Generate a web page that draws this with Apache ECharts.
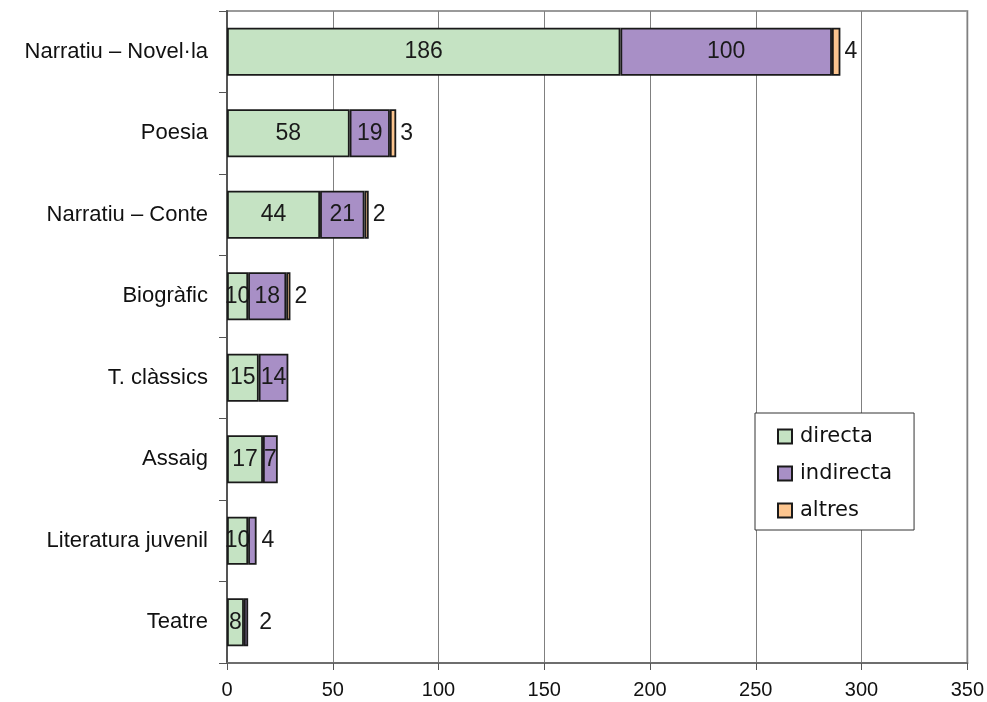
<!DOCTYPE html>
<html>
<head>
<meta charset="utf-8">
<script src="https://cdn.jsdelivr.net/npm/echarts@6/dist/echarts.min.js"></script>
<style>
  html, body { margin: 0; padding: 0; background: #fff; }
  #chart { width: 987px; height: 702px; }
</style>
</head>
<body>
<div id="chart"></div>
<script>
// Genres, top to bottom
const categories = [
  'Narratiu – Novel·la',
  'Poesia',
  'Narratiu – Conte',
  'Biogràfic',
  'T. clàssics',
  'Assaig',
  'Literatura juvenil',
  'Teatre'
];

// Counts per type of translation
const directa   = [186, 58, 44, 10, 15, 17, 10, 8];
const indirecta = [100, 19, 21, 18, 14, 7, 4, 2];
const altres    = [4, 3, 2, 2, null, null, null, null];

const seriesNames = ['directa', 'indirecta', 'altres'];
const xTicks = [0, 50, 100, 150, 200, 250, 300, 350];

const colors = ['#c5e3c3', '#a88fc6', '#fcc58f'];
const sans = 'Liberation Sans, Arial, sans-serif';
const labelFont = { fontFamily: sans, fontSize: 23, color: '#1a1a1a' };

// Narrow segments get their value written just past the bar end
function buildData(values, outsideBelow, gapForIndex) {
  return values.map((v, i) => {
    if (v == null) return null;
    if (v < outsideBelow) {
      return { value: v, label: { position: 'right', distance: gapForIndex(i) } };
    }
    return v;
  });
}

const stacked = [directa, indirecta, altres];
const series = stacked.map((vals, k) => ({
  name: seriesNames[k],
  type: 'bar',
  stack: 'total',
  barWidth: 48,
  itemStyle: { color: colors[k], borderColor: '#1a1a1a', borderWidth: 1.8 },
  label: Object.assign({ show: true, position: 'inside' }, labelFont),
  data: k === 0 ? vals
      : k === 1 ? buildData(vals, 5, i => (i === categories.length - 1 ? 11 : 5))
      : buildData(vals, 1000, () => 4)
}));

const chart = echarts.init(document.getElementById('chart'), null, { renderer: 'canvas' });
chart.setOption({
  animation: false,
  backgroundColor: '#ffffff',
  grid: {
    left: 227, right: 19, top: 11, bottom: 39,
    show: true, borderColor: '#9a9a9a', borderWidth: 2
  },
  legend: {
    orient: 'vertical',
    left: 755, top: 413,
    padding: [13, 22, 9, 22],
    backgroundColor: '#ffffff',
    borderColor: '#333333', borderWidth: 1,
    itemWidth: 14, itemHeight: 14, itemGap: 16,
    icon: 'rect',
    itemStyle: { borderColor: '#1a1a1a', borderWidth: 2 },
    textStyle: { fontFamily: 'DejaVu Sans, sans-serif', fontSize: 21, color: '#111', padding: [0, 0, 0, 3] },
    data: seriesNames
  },
  xAxis: {
    type: 'value',
    min: xTicks[0], max: xTicks[xTicks.length - 1], interval: xTicks[1] - xTicks[0],
    axisLine: { show: true, lineStyle: { color: '#6e6e6e', width: 2 } },
    axisTick: { show: true, length: 7, lineStyle: { color: '#555' } },
    splitLine: { show: true, lineStyle: { color: '#808080', width: 1 } },
    axisLabel: { margin: 17, fontFamily: sans, fontSize: 20, color: '#111' }
  },
  yAxis: {
    type: 'category',
    inverse: true,
    data: categories,
    axisLine: { show: true, lineStyle: { color: '#555', width: 2 } },
    axisTick: { show: true, length: 8, lineStyle: { color: '#555' } },
    axisLabel: { margin: 19, fontFamily: sans, fontSize: 22, color: '#111' }
  },
  series: series
});
</script>
</body>
</html>
